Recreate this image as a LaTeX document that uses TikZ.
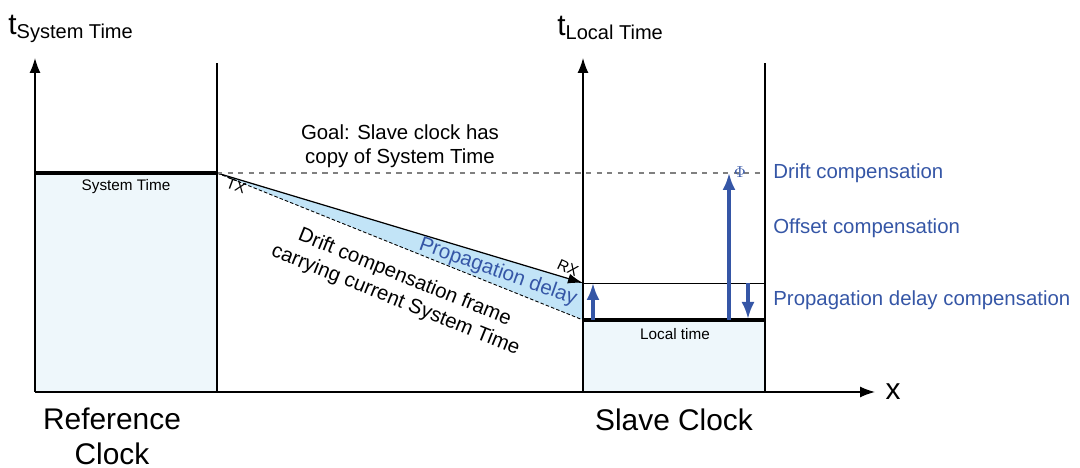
\documentclass[tikz,border=0pt]{standalone}
\usepackage{fontspec}
\setmainfont{Liberation Sans}
\usetikzlibrary{arrows.meta}
\definecolor{clockfill}{HTML}{EEF7FB}
\definecolor{delayfill}{HTML}{C2E4F7}
\definecolor{compblue}{HTML}{3556A6}
\tikzset{
	axisline/.style={line width=0.8pt, -{Latex[length=3mm,width=2.2mm]}},
	timeline/.style={line width=2.4pt},
	comparrow/.style={compblue, line width=1.8pt, -{Latex[length=3.4mm,width=2.6mm]}},
	complabel/.style={compblue, anchor=west, inner sep=0pt, font=\fontsize{11.6}{13}\selectfont},
	bigtext/.style={font=\fontsize{17}{20}\selectfont},
	midtext/.style={font=\fontsize{11.6}{13.8}\selectfont, align=center},
	smalltext/.style={font=\fontsize{8.7}{10}\selectfont}
}

\begin{document}
\begin{tikzpicture}
				\useasboundingbox (0,0) rectangle (21.6,9.36);
				
				\coordinate (origin) at (0.7,1.52);
				\coordinate (tx) at (4.34,5.9);
				\coordinate (rx) at (11.66,3.7);
				\coordinate (rxlow) at (11.66,2.96);
				
				\fill[clockfill] (0.7,1.52) rectangle (4.34,5.9);
				\fill[clockfill] (11.66,1.52) rectangle (15.3,2.96);
				
				\fill[delayfill] (tx) -- (rx) -- (rxlow) -- cycle;
				\draw[line width=0.5pt, dash pattern=on 2pt off 1.2pt] (tx) -- (rxlow);
				\draw[line width=0.7pt, -{Latex[length=3mm,width=2mm]}] (tx) -- (rx);
				
				\draw[gray, line width=0.7pt, dashed] (tx) -- (15.3,5.9);
				\draw[line width=0.5pt] (rx) -- (15.3,3.7);
				
				\draw[axisline] (origin) -- (0.7,8.2);
				\draw[line width=0.8pt] (4.34,1.52) -- (4.34,8.1);
				\draw[axisline] (11.66,1.52) -- (11.66,8.2);
				\draw[line width=0.8pt] (15.3,1.52) -- (15.3,8.1);
				\draw[axisline] (origin) -- (17.5,1.52);
				
				\draw[timeline] (0.7,5.9) -- (tx);
				\draw[timeline] (rxlow) -- (15.3,2.96);
				
				\draw[comparrow] (11.86,2.96) -- (11.86,3.7);
				\draw[comparrow] (14.58,2.96) -- (14.58,5.9);
				\draw[comparrow] (14.96,3.7) -- (14.96,2.98);
				\node[compblue, inner sep=0pt, font=\fontsize{9.5}{10}\selectfont] (phi) at (14.8,5.92) {\textbf{$\Phi$}};
				
				\node[anchor=west, inner sep=0pt] (tsys) at (0.16,8.78) {\fontsize{17}{20}\selectfont t\raisebox{-0.3ex}{\fontsize{11.4}{13}\selectfont System Time}};
				\node[anchor=west, inner sep=0pt] (tloc) at (11.14,8.8) {\fontsize{17}{20}\selectfont t\raisebox{-0.3ex}{\fontsize{11.4}{13}\selectfont Local Time}};
				\node[bigtext] (xlabel) at (17.86,1.52) {x};
				
				\node[smalltext] (systime) at (2.52,5.62) {System Time};
				\node[smalltext] (loctime) at (13.5,2.68) {Local time};
				\node[smalltext, rotate=-20] (txlabel) at (4.72,5.64) {TX};
				\node[smalltext, rotate=-25] (rxlabel) at (11.36,4.0) {RX};
				
				\node[midtext] (goal) at (8.0,6.44) {Goal: Slave clock has\\copy of System Time};
				\node[midtext, rotate=-22] (frame) at (8.0,3.58) {Drift compensation frame\\carrying current System Time};
				\node[compblue, font=\fontsize{11.7}{13}\selectfont, rotate=-19.5] (delay) at (9.96,3.92) {Propagation delay};
				
				\node[complabel] (drift) at (15.46,5.9) {Drift compensation};
				\node[complabel] (offset) at (15.46,4.8) {Offset compensation};
				\node[complabel] (propcomp) at (15.46,3.36) {Propagation delay compensation};
				
				\node[bigtext, align=center] (refclock) at (2.24,0.64) {Reference\\Clock};
				\node[bigtext] (slaveclock) at (13.48,0.96) {Slave Clock};
\end{tikzpicture}
\end{document}
